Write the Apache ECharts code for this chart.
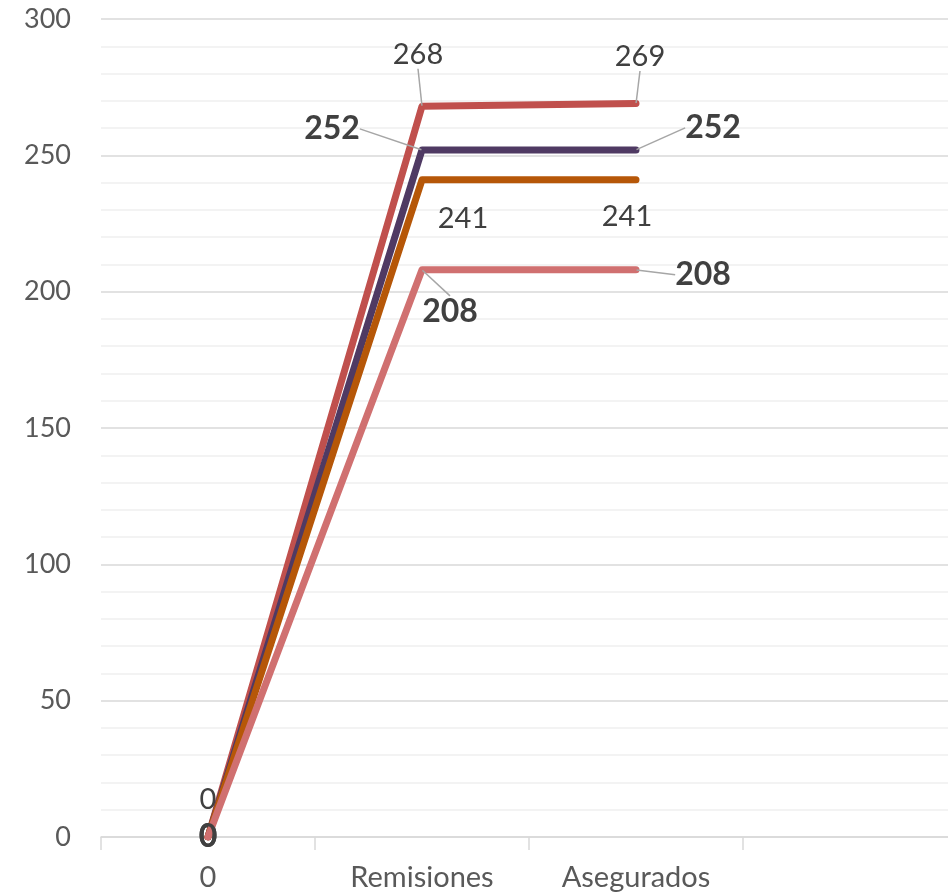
<!DOCTYPE html>
<html>
<head>
<meta charset="utf-8">
<script src="https://cdn.jsdelivr.net/npm/echarts@6/dist/echarts.min.js"></script>
<style>
html,body{margin:0;padding:0;background:#fff;}
#chart{width:948px;height:895px;}
</style>
</head>
<body>
<div id="chart"></div>
<script>
const categories = ['0', 'Remisiones', 'Asegurados', ''];
const seriesNames = ['Serie A', 'Serie B', 'Serie C', 'Serie D'];
const redValues = [0, 268, 269];
const purpleValues = [0, 252, 252];
const orangeValues = [0, 241, 241];
const pinkValues = [0, 208, 208];
const yTicks = [0, 50, 100, 150, 200, 250, 300];

const FONT = 'Lato';
const labelColor = '#404040';
const colors = ['#C0504D', '#4F3A63', '#B65708', '#D07070'];
const boldSeries = [false, true, false, true];

// label placement (pixel offsets from the point) and whether a leader line is drawn
const labelOffsets = [
  [[0, -37], [-4, -52], [4, -47]],
  [[0, 0], [-90, -21], [77, -22]],
  [[0, 0], [41, 39], [-9, 37]],
  [[0, 0], [28, 42], [67, 5]]
];
const leaderShown = [
  [false, true, true],
  [false, true, true],
  [false, false, false],
  [false, true, true]
];

function labelLayout(params) {
  const s = params.seriesIndex, i = params.dataIndex;
  const off = labelOffsets[s][i];
  const out = {dx: off[0], dy: off[1]};
  if (!leaderShown[s][i]) return out;
  const r0 = params.labelRect, h = params.rect;
  const r = {x: r0.x + off[0], y: r0.y + off[1], width: r0.width, height: r0.height};
  const px = h.x + h.width / 2, py = h.y + h.height / 2;
  const cx = r.x + r.width / 2, cy = r.y + r.height / 2;
  const gap = 4, elbow = 12;
  let pts;
  if (r.x > px) {
    if (r.y > py + 5) {
      const end = [cx, r.y - gap];
      pts = [[px, py], end, end];
    } else {
      const end = [r.x - gap, cy];
      pts = [[px, py], [end[0] - elbow, cy], end];
    }
  } else if (r.x + r.width < px) {
    const end = [r.x + r.width + gap, cy];
    pts = [[px, py], [end[0] + elbow, cy], end];
  } else {
    const end = [cx, r.y + r.height + gap];
    pts = [[px, py], end, end];
  }
  out.labelLinePoints = pts;
  return out;
}

function build(values, s) {
  return values.map((v, i) => ({value: v, labelLine: {show: leaderShown[s][i]}}));
}

const chart = echarts.init(document.getElementById('chart'));
chart.setOption({
  animation: false,
  grid: {left: 101, width: 856, top: 19, bottom: 58, containLabel: false, outerBoundsMode: 'none'},
  xAxis: {
    type: 'category', data: categories, boundaryGap: true,
    axisLine: {lineStyle: {color: '#D9D9D9', width: 1.5}},
    axisTick: {show: true, length: 13, lineStyle: {color: '#D9D9D9', width: 1.5}},
    axisLabel: {fontFamily: FONT, fontSize: 29, color: '#595959', margin: 26, interval: 0}
  },
  yAxis: {
    type: 'value', min: yTicks[0], max: yTicks[yTicks.length - 1], interval: 50,
    axisLine: {show: false}, axisTick: {show: false},
    axisLabel: {fontFamily: FONT, fontSize: 27, color: '#595959', margin: 30},
    splitLine: {lineStyle: {color: '#D9D9D9', width: 1.5}},
    minorTick: {show: false, splitNumber: 5},
    minorSplitLine: {show: true, lineStyle: {color: '#F0F0F0', width: 1.5}}
  },
  series: [redValues, purpleValues, orangeValues, pinkValues].map((vals, s) => ({
    name: seriesNames[s], type: 'line', data: build(vals, s),
    symbol: 'circle', symbolSize: 1, showSymbol: true,
    itemStyle: {color: colors[s]},
    lineStyle: {color: colors[s], width: 7, cap: 'round', join: 'round'},
    label: {
      show: true, position: 'inside',
      fontFamily: FONT, color: labelColor,
      fontSize: boldSeries[s] ? 32 : 29, fontWeight: boldSeries[s] ? 'bold' : 'normal'
    },
    labelLine: {show: true, smooth: false, lineStyle: {color: '#A6A6A6', width: 1.5}},
    labelLayout: labelLayout,
    z: 2 + s
  }))
});
</script>
</body>
</html>
